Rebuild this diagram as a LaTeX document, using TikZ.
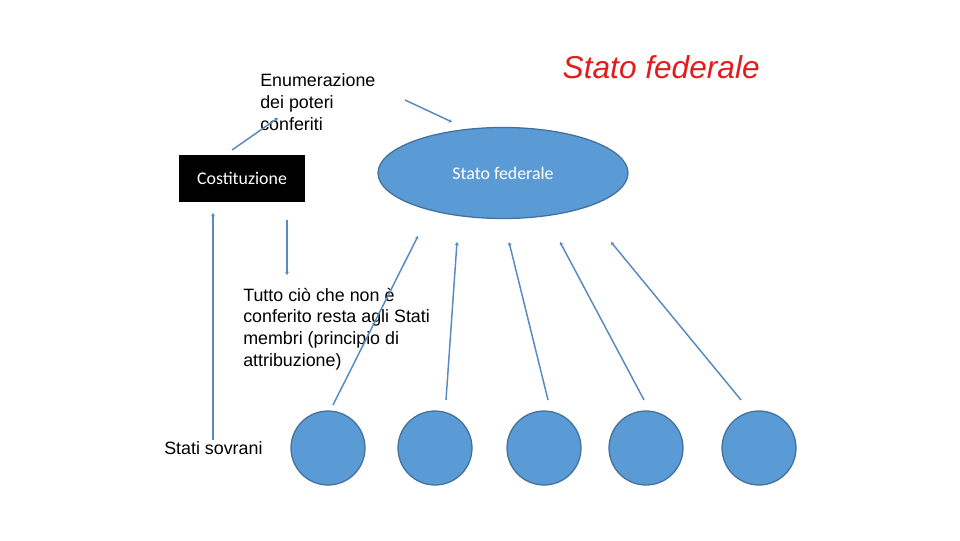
\documentclass[tikz,border=0pt]{standalone}
\usepackage{fontspec}
\setmainfont{Liberation Sans}
\newfontfamily\calfont{Carlito}
\usetikzlibrary{arrows.meta,shapes.geometric}
\definecolor{blfill}{RGB}{91,155,213}
\definecolor{bldraw}{RGB}{65,113,156}
\definecolor{blline}{RGB}{88,138,192}
\definecolor{titred}{RGB}{226,28,28}
\begin{document}
\begin{tikzpicture}[
  st/.style={ellipse, draw=bldraw, fill=blfill, line width=0.9pt, inner sep=0pt, minimum width=1.85cm, minimum height=1.85cm},
  fed/.style={ellipse, draw=bldraw, fill=blfill, line width=0.9pt, inner sep=0pt, minimum width=6.25cm, minimum height=2.275cm, text=white, font=\calfont\fontsize{12.7}{15}\selectfont},
  cost/.style={rectangle, fill=black, inner sep=0pt, minimum width=3.15cm, minimum height=1.175cm, text=white, font=\calfont\fontsize{12.7}{15}\selectfont},
  txt/.style={anchor=west, inner sep=0pt, align=left, font=\fontsize{12.7}{15.6}\selectfont},
  ar/.style={blline, line width=1.05pt, -{Stealth[length=2.4pt,width=2.8pt]}}]
\useasboundingbox (0,0) rectangle (24,13.5);
% title
\node[font=\fontsize{22.5}{27}\selectfont\itshape, text=titred] (title) at (16.53,11.83) {Stato federale};
% federal state and constitution
\node[fed] (fed) at (12.575,9.175) {Stato federale};
\node[cost] (cost) at (6.05,9.04) {Costituzione};
\node[txt] (enum) at (6.5,10.95) {Enumerazione\\dei poteri\\conferiti};
\node[txt] (tutto) at (6.075,5.27) {Tutto ciò che non è\\conferito resta agli Stati\\membri (principio di\\attribuzione)};
\node[txt] (sovr) at (4.1,2.3) {Stati sovrani};
% member states
\node[st] (c1) at (8.2,2.3) {};
\node[st] (c2) at (10.875,2.3) {};
\node[st] (c3) at (13.6,2.3) {};
\node[st] (c4) at (16.15,2.3) {};
\node[st] (c5) at (18.975,2.3) {};
% loose arrow ends
\coordinate (e1) at (5.8,9.75);
\coordinate (e2) at (6.95,10.55);
\coordinate (e3) at (10.125,11);
\coordinate (e4) at (11.3,10.45);
\coordinate (s1) at (5.325,2.5);
\coordinate (s2) at (5.325,8.175);
\coordinate (d1) at (7.175,8);
\coordinate (d2) at (7.175,6.625);
\coordinate (a1) at (8.325,3.375);
\coordinate (b1) at (10.45,7.6);
\coordinate (a2) at (11.15,3.5);
\coordinate (b2) at (11.425,7.45);
\coordinate (a3) at (13.7,3.5);
\coordinate (b3) at (12.725,7.45);
\coordinate (a4) at (16.1,3.5);
\coordinate (b4) at (14,7.45);
\coordinate (a5) at (18.525,3.5);
\coordinate (b5) at (15.275,7.45);
\draw[ar] (e1) -- (e2);
\draw[ar] (e3) -- (e4);
\draw[ar] (s1) -- (s2);
\draw[ar] (d1) -- (d2);
\draw[ar] (a1) -- (b1);
\draw[ar] (a2) -- (b2);
\draw[ar] (a3) -- (b3);
\draw[ar] (a4) -- (b4);
\draw[ar] (a5) -- (b5);
\end{tikzpicture}
\end{document}
